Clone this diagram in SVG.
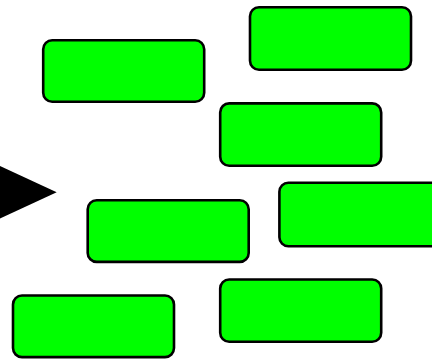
<svg xmlns="http://www.w3.org/2000/svg" width="432" height="360" viewBox="0 0 432 360">
<style>
.n{fill:#00ff00;stroke:#000;stroke-width:2.6}
</style>
<rect width="432" height="360" fill="#fff"/>
<g id="connectors">
<polygon points="-20,156.7 56.7,192.3 -20,227.9" fill="#000"/>
</g>
<g id="node1"><rect class="n" x="43.2" y="40.2" width="161" height="61.6" rx="9"/></g>
<g id="node2"><rect class="n" x="250" y="7.3" width="161" height="62.5" rx="9"/></g>
<g id="node3"><rect class="n" x="220.2" y="103.4" width="161" height="62.3" rx="9"/></g>
<g id="node4"><rect class="n" x="87.7" y="200.3" width="161" height="61.6" rx="9"/></g>
<g id="node5"><rect class="n" x="279.4" y="182.8" width="161" height="63.5" rx="9"/></g>
<g id="node6"><rect class="n" x="220.2" y="279.5" width="161" height="62.3" rx="9"/></g>
<g id="node7"><rect class="n" x="13" y="295.5" width="161" height="61.6" rx="9"/></g>
</svg>
